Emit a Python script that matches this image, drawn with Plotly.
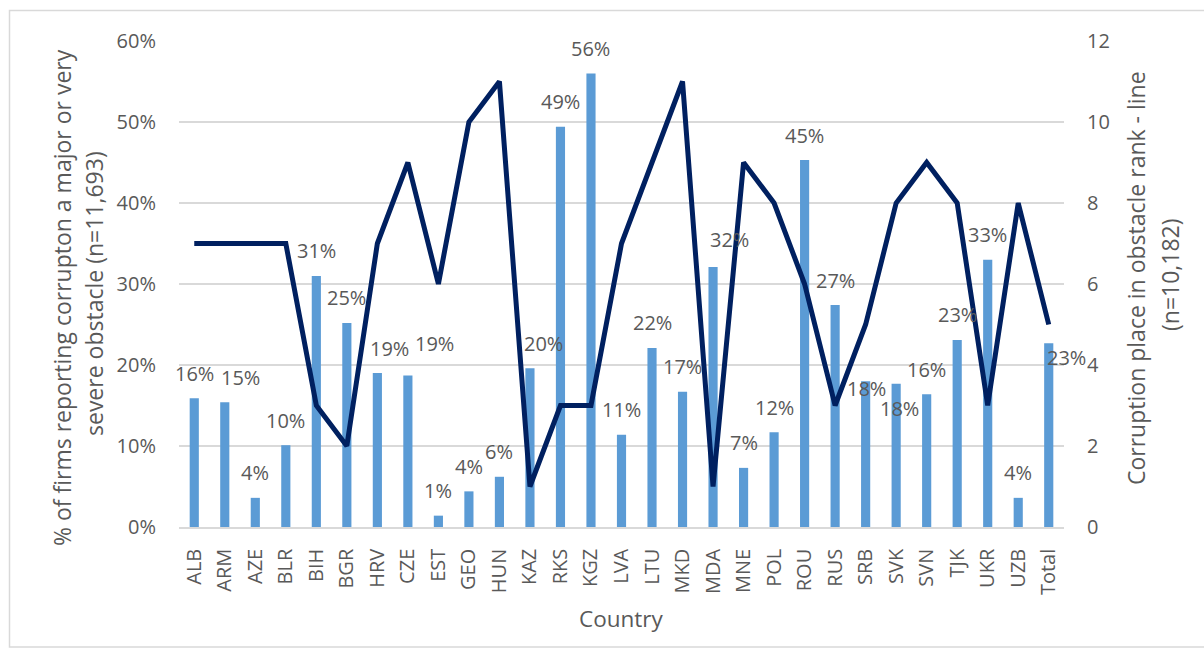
import plotly.graph_objects as go

# Survey data by country
countries = ["ALB", "ARM", "AZE", "BLR", "BIH", "BGR", "HRV", "CZE", "EST", "GEO",
             "HUN", "KAZ", "RKS", "KGZ", "LVA", "LTU", "MKD", "MDA", "MNE", "POL",
             "ROU", "RUS", "SRB", "SVK", "SVN", "TJK", "UKR", "UZB", "Total"]

# % of firms reporting corruption as a major or very severe obstacle
share_obstacle = [15.9, 15.4, 3.6, 10.1, 31.0, 25.2, 19.0, 18.7, 1.4, 4.4,
                  6.2, 19.6, 49.4, 56.0, 11.4, 22.1, 16.7, 32.1, 7.3, 11.7,
                  45.3, 27.4, 18.0, 17.7, 16.4, 23.1, 33.0, 3.6, 22.7]

# Corruption place in the obstacle ranking
corruption_rank = [7, 7, 7, 7, 3, 2, 7, 9, 6, 10,
                   11, 1, 3, 3, 7, 9, 11, 1, 9, 8,
                   6, 3, 5, 8, 9, 8, 3, 8, 5]

left_ticks = [0, 10, 20, 30, 40, 50, 60]
right_ticks = [0, 2, 4, 6, 8, 10, 12]

FONT = "Open Sans"
GREY = "#595959"
BAR = "#5B9BD5"
LINE = "#002060"
GRID = "#D9D9D9"

# plot area in pixels
L, R, T, B = 179, 1064, 41, 527
W, H = 1204, 658

fig = go.Figure()
fig.add_trace(go.Bar(x=countries, y=share_obstacle, marker_color=BAR,
                     marker_line_width=0, yaxis="y", showlegend=False))
fig.add_trace(go.Scatter(x=countries, y=corruption_rank, mode="lines",
                         line=dict(color=LINE, width=5), yaxis="y2",
                         showlegend=False))

# label nudges (px) for labels moved off the default spot above the bar
nudge = {"ARM": (16, 0), "HRV": (12, 0), "CZE": (27, 7), "KAZ": (14, 0),
         "MDA": (16, 2), "SRB": (1, -32), "SVK": (3, -50), "Total": (18, -39)}

annotations = []
for c, v in zip(countries, share_obstacle):
    dx, dy = nudge.get(c, (0, 0))
    annotations.append(dict(x=c, y=v, xref="x", yref="y", text=f"{round(v)}%",
                            showarrow=False, yanchor="middle", xanchor="center",
                            xshift=dx, yshift=25 + dy,
                            font=dict(family=FONT, size=20, color=GREY)))


def px_x(p):
    return (p - L) / (R - L)


def px_y(p):
    return (B - p) / (B - T)


annotations += [
    dict(x=px_x(62), y=px_y(298), xref="paper", yref="paper", textangle=-90,
         text="% of firms reporting corrupton a major or very", showarrow=False,
         xanchor="center", yanchor="middle",
         font=dict(family=FONT, size=23, color=GREY)),
    dict(x=px_x(94), y=px_y(294), xref="paper", yref="paper", textangle=-90,
         text="severe obstacle (n=11,693)", showarrow=False,
         xanchor="center", yanchor="middle",
         font=dict(family=FONT, size=23, color=GREY)),
    dict(x=px_x(1136), y=px_y(278), xref="paper", yref="paper", textangle=-90,
         text="Corruption place in obstacle rank - line", showarrow=False,
         xanchor="center", yanchor="middle",
         font=dict(family=FONT, size=23, color=GREY)),
    dict(x=px_x(1170), y=px_y(275), xref="paper", yref="paper", textangle=-90,
         text="(n=10,182)", showarrow=False,
         xanchor="center", yanchor="middle",
         font=dict(family=FONT, size=23, color=GREY)),
    dict(x=px_x(621), y=px_y(618), xref="paper", yref="paper",
         text="Country", showarrow=False,
         xanchor="center", yanchor="middle",
         font=dict(family=FONT, size=22.5, color=GREY)),
]

fig.update_layout(
    width=W, height=H,
    margin=dict(l=L, r=W - R, t=T, b=H - B, autoexpand=False),
    paper_bgcolor="white", plot_bgcolor="white",
    bargap=0.7,
    showlegend=False,
    font=dict(family=FONT, size=20, color=GREY),
    xaxis=dict(type="category", tickangle=-90, showgrid=False,
               range=[-0.5, len(countries) - 0.5], automargin=False,
               showline=True, linecolor=GRID, linewidth=1.5,
               ticks="", ticklabelstandoff=12,
               tickfont=dict(family=FONT, size=20, color=GREY)),
    yaxis=dict(range=[0, 60], tickvals=left_ticks,
               ticktext=[f"{t}%" for t in left_ticks],
               showgrid=True, gridcolor=GRID, gridwidth=1.5, automargin=False,
               zeroline=False, showline=False, ticks="",
               ticklabelstandoff=22,
               tickfont=dict(family=FONT, size=20, color=GREY)),
    yaxis2=dict(range=[0, 12], tickvals=right_ticks, overlaying="y",
                side="right", showgrid=False, zeroline=False, showline=False,
                ticks="", ticklabelstandoff=22, automargin=False,
                tickfont=dict(family=FONT, size=20, color=GREY)),
    annotations=annotations,
    shapes=[dict(type="rect", xref="paper", yref="paper",
                 x0=px_x(9.5), x1=px_x(1215), y0=px_y(647), y1=px_y(10.5),
                 line=dict(color="#D9D9D9", width=1.5), layer="below")],
)

fig.write_html("out.html")
